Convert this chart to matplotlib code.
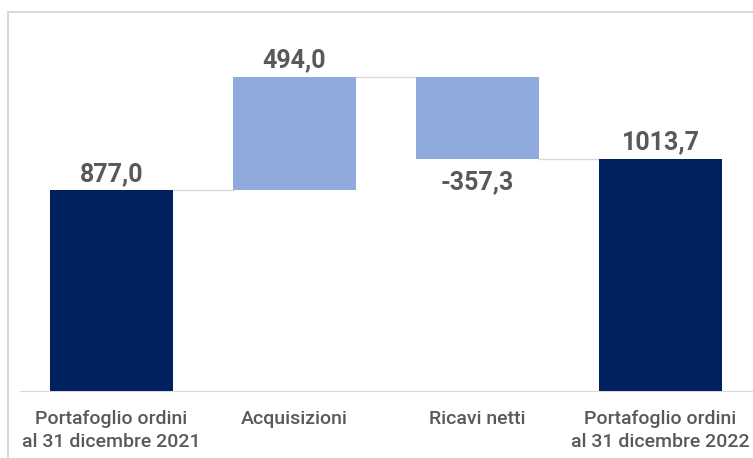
import numpy as np
import matplotlib.pyplot as plt
from matplotlib.patches import Rectangle

categories = ['Portafoglio ordini\nal 31 dicembre 2021', 'Acquisizioni',
              'Ricavi netti', 'Portafoglio ordini\nal 31 dicembre 2022']
values = [877.0, 494.0, -357.3, 1013.7]
labels = ['877,0', '494,0', '-357,3', '1013,7']
is_total = [True, False, False, True]

dark = '#002060'
light = '#8FAADC'
grey_txt = '#595959'

W, H = 753, 458
fig = plt.figure(figsize=(W/100, H/100), dpi=100)
ax = fig.add_axes([20/W, (H-391)/H, 732/W, (391-20)/H])

# waterfall bottoms / heights
bottoms, heights = [], []
run = 0
for v, tot in zip(values, is_total):
    if tot:
        bottoms.append(0)
        heights.append(v)
        run = v
    else:
        if v >= 0:
            bottoms.append(run)
            heights.append(v)
        else:
            bottoms.append(run + v)
            heights.append(-v)
        run += v

x = np.arange(len(values))
wid = 0.667
cols = [dark if t else light for t in is_total]
ax.bar(x, heights, bottom=bottoms, width=wid, color=cols, zorder=3)

# connectors
level = [bottoms[i] + heights[i] if values[i] >= 0 else bottoms[i] for i in range(len(values))]
for i in range(len(values) - 1):
    ax.plot([x[i] + wid/2, x[i+1] - wid/2], [level[i], level[i]],
            color='#D9D9D9', lw=1, zorder=2)

# value labels
for i, v in enumerate(values):
    if v >= 0:
        ax.text(x[i], bottoms[i] + heights[i] + 18, labels[i], ha='center', va='bottom',
                fontsize=18, fontweight='bold', color=grey_txt, family='Roboto')
    else:
        ax.text(x[i], bottoms[i] - 50, labels[i], ha='center', va='top',
                fontsize=18, fontweight='bold', color=grey_txt, family='Roboto')

ax.set_xlim(-0.5, 3.5)
ax.set_ylim(0, (391-20)/0.2292)
ax.set_xticks(x)
ax.set_xticklabels(categories, fontsize=14, color=grey_txt, linespacing=1.32,
                   family='Roboto', fontweight='medium')
ax.tick_params(axis='x', length=0, pad=14)
ax.set_yticks([])
for s in ['top', 'right', 'left']:
    ax.spines[s].set_visible(False)
ax.spines['bottom'].set_color('#D9D9D9')

fig.patches.append(Rectangle((8/W, -0.1), 1.2, (H-12)/H + 0.1, transform=fig.transFigure,
                             fill=False, edgecolor='#D9D9D9', lw=1.5))

fig.savefig('out.png', dpi=100)
